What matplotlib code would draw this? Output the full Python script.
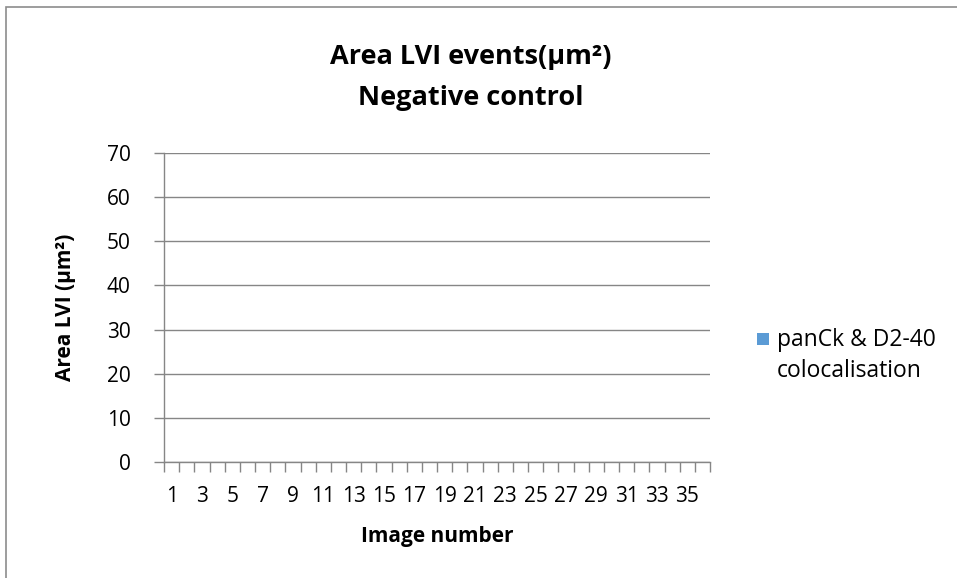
import matplotlib
matplotlib.use("Agg")
import matplotlib.pyplot as plt
from matplotlib.patches import Rectangle
import numpy as np

# Image numbers and measured LVI areas (no events in the negative control)
image_numbers = list(range(1, 37))
area_lvi = [0] * 36
series_label = "panCk & D2-40\ncolocalisation"
y_ticks = [0, 10, 20, 30, 40, 50, 60, 70]

FONT = ["Open Sans", "DejaVu Sans"]
plt.rcParams["font.family"] = FONT

GRID = "#868686"
BAR = "#5B9BD5"

fig = plt.figure(figsize=(9.57, 5.78), dpi=100)
ax = fig.add_axes([0.1714, 0.2007, 0.5705, 0.5346])

bars = ax.bar(image_numbers, area_lvi, width=0.6, color=BAR)

ax.set_xlim(0.5, 36.5)
ax.set_ylim(0, 70)

# y axis: gridlines plus short outward ticks in the same grey
ax.set_yticks(y_ticks)
ax.yaxis.grid(True, color=GRID, linewidth=1)
ax.set_axisbelow(True)
ax.tick_params(axis="y", direction="out", length=7, width=1, color=GRID,
               labelsize=15, pad=17)

# x axis: ticks between categories, labels on every other category
ax.set_xticks(np.arange(0.5, 37, 1))
ax.set_xticklabels([])
ax.tick_params(axis="x", which="major", direction="out", length=7, width=1,
               color=GRID)
ax.set_xticks(image_numbers[::2], minor=True)
ax.set_xticklabels([str(n) for n in image_numbers[::2]], minor=True)
ax.tick_params(axis="x", which="minor", length=0, labelsize=15, pad=17)

for side in ("top", "right"):
    ax.spines[side].set_visible(False)
for side in ("left", "bottom"):
    ax.spines[side].set_color(GRID)
    ax.spines[side].set_linewidth(1)

ax.set_xlabel("Image number", fontsize=15, fontweight="bold", labelpad=14)
ax.set_ylabel("Area LVI (µm²)", fontsize=15, fontweight="bold", labelpad=22)

fig.text(0.492, 0.866, "Area LVI events(µm²)\nNegative control",
         ha="center", va="center", fontsize=19.5, fontweight="bold",
         linespacing=1.75)

# legend entry
color = bars.patches[0].get_facecolor() if len(bars.patches) else BAR
fig.patches.append(Rectangle((757 / 957, 1 - 345 / 578), 12 / 957, 12 / 578,
                             transform=fig.transFigure, facecolor=color,
                             edgecolor="none"))
fig.text(777 / 957, 1 - 377 / 578, series_label, ha="left", va="baseline",
         fontsize=16.5, linespacing=1.39,
         transform=fig.transFigure)

# chart border
fig.patches.append(Rectangle((6 / 957, -0.05), 1.2, 1 - 7 / 578 + 0.05,
                             transform=fig.transFigure, facecolor="none",
                             edgecolor="#8c8c8c", linewidth=1.2))

fig.savefig("out.png", dpi=100)
